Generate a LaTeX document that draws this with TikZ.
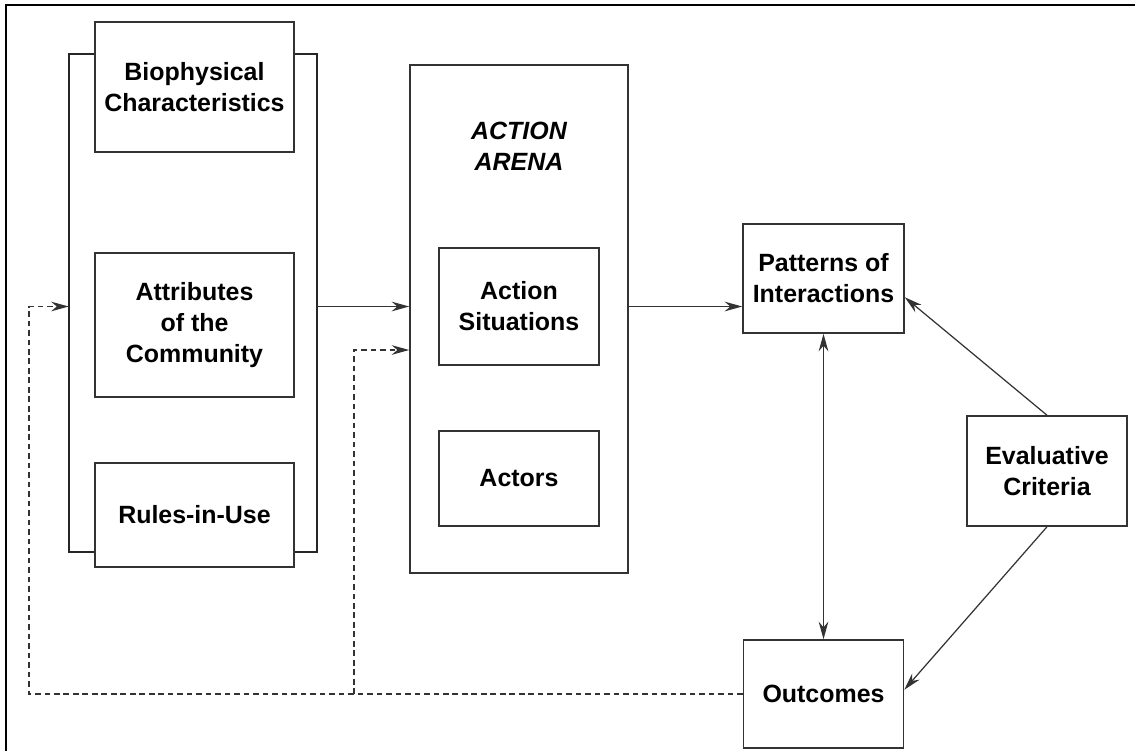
\documentclass[tikz,border=0pt]{standalone}
\usepackage{fontspec}
\setmainfont{Liberation Sans}
\usepackage{tikz}
\usetikzlibrary{arrows.meta}
\tikzset{
  stdbox/.style={draw=black!80, line width=0.9pt, align=center, inner sep=2pt,
    font=\fontsize{14.2}{17.6}\selectfont\bfseries},
  arr/.style={draw=black!80, line width=0.7pt, -{Stealth[length=10pt,width=5.5pt]}},
  fb/.style={arr, dash pattern=on 3.2pt off 2.2pt}
}

\begin{document}
\begin{tikzpicture}[x=0.02cm, y=-0.02cm]
  \useasboundingbox (0,0) rectangle (1135,751);
  % frame (only left and top edge visible)
  \draw[line width=1.4pt] (1135,5) -- (6,5) -- (6,751);

  % context boxes and bracket
  \node[minimum width=4.96cm, minimum height=9.96cm] (ctx) at (193,303) {};
  \node[stdbox, fill=white, minimum width=3.98cm, minimum height=2.6cm] (bio) at (194.5,87) {Biophysical\\Characteristics};
  \node[stdbox, minimum width=3.98cm, minimum height=2.88cm] (attr) at (194.5,325) {Attributes\\of the\\Community};
  \node[stdbox, fill=white, minimum width=3.98cm, minimum height=2.08cm] (rules) at (194.5,515) {Rules-in-Use};
  \draw[draw=black!85, line width=1pt] (bio.west |- ctx.north) -- (ctx.north west) -- (ctx.south west) -- (rules.west |- ctx.south);
  \draw[draw=black!85, line width=1pt] (bio.east |- ctx.north) -- (ctx.north east) -- (ctx.south east) -- (rules.east |- ctx.south);

  % action arena
  \node[stdbox, minimum width=4.36cm, minimum height=10.16cm] (arena) at (519,319) {};
  \node[font=\fontsize{14.2}{17.6}\selectfont\bfseries\itshape, align=center] (arenalbl) at (519,146) {ACTION\\ARENA};
  \node[stdbox, minimum width=3.2cm, minimum height=2.34cm] (sit) at (519,306.5) {Action\\Situations};
  \node[stdbox, minimum width=3.2cm, minimum height=1.9cm] (actors) at (519,478.5) {Actors};

  % right side
  \node[stdbox, minimum width=3.22cm, minimum height=2.18cm] (pat) at (823.5,278.5) {Patterns of\\Interactions};
  \node[stdbox, minimum width=3.2cm, minimum height=2.2cm] (eval) at (1047,471) {Evaluative\\Criteria};
  \node[stdbox, minimum width=3.2cm, minimum height=2.16cm] (out) at (823.5,694) {Outcomes};

  % connectors
  \draw[arr] (ctx.east |- sit) -- (arena.west |- sit);
  \draw[arr] (arena.east |- sit) -- (pat.west |- sit);
  \draw[arr, {Stealth[length=10pt,width=5.5pt]}-{Stealth[length=10pt,width=5.5pt]}] (pat.south) -- (out.north);
  \draw[arr] (eval.north) -- (pat.-13);
  \draw[arr] (eval.south) -- (out.3);

  % feedback
  \coordinate (fbl) at (29,694);
  \coordinate (fbm) at (354,694);
  \coordinate (fbup) at (354,350);
  \draw[fb] (out.west) -- (fbl) |- (ctx.west |- sit);
  \draw[fb] (fbm) -- (fbup) -- (arena.west |- fbup);
\end{tikzpicture}
\end{document}
